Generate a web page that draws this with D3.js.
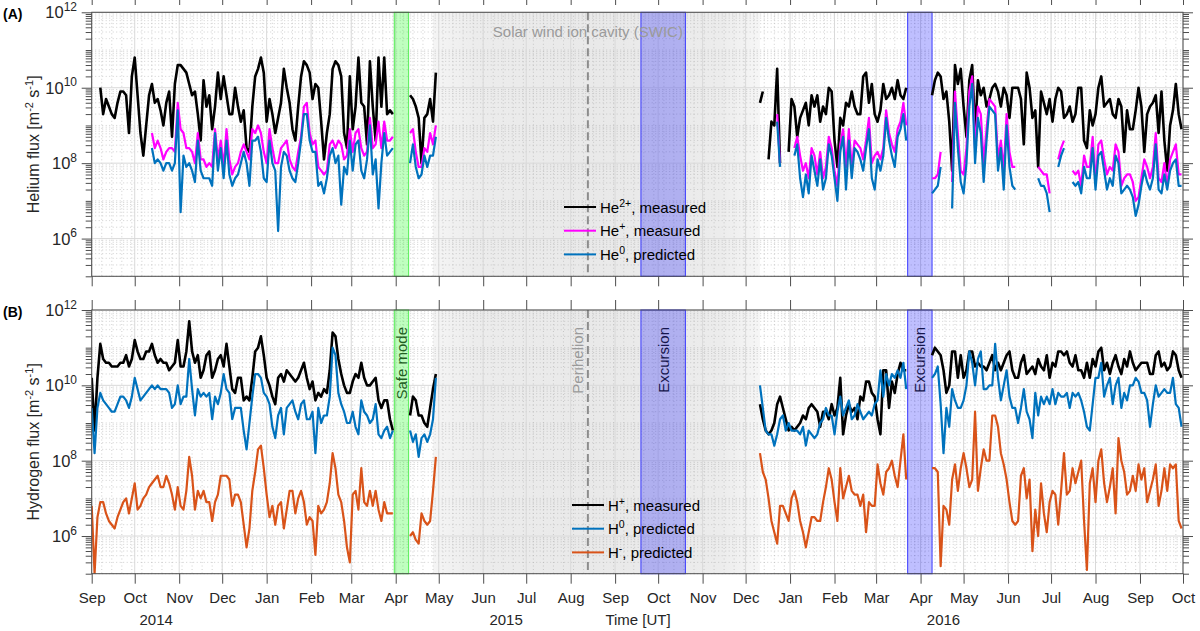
<!DOCTYPE html>
<html>
<head>
<meta charset="utf-8">
<title>Helium and hydrogen flux</title>
<script src="https://cdn.jsdelivr.net/npm/d3@7/dist/d3.min.js"></script>
<style>
  body { margin: 0; background: #fff; }
  svg { display: block; font-family: "Liberation Sans", Arial, Helvetica, sans-serif; }
</style>
</head>
<body>
<svg id="chart" width="1200" height="631"></svg>
<script>
// sampling grid: one value every 2 days from each segment start (UTC)
const seg1_start = "2014-09-01", seg2_start = "2015-12-11", step_days = 2;

// all series: log10 of flux [m^-2 s^-1], null = no data
const he2_seg1 = [
  null, null, null, 10.0, 9.3, 9.7, 9.5, 9.3, 9.2, 9.6,
  9.9, 9.9, 9.8, 8.8, 10.3, 10.8, 9.8, 8.8, 8.2, 9.0,
  9.8, 10.1, 9.6, 9.7, 9.4, 9.0, 9.6, 9.9, 8.7, 10.1,
  10.6, 10.6, 10.5, 10.4, 10.1, 9.8, 9.9, 9.3, 8.6, 10.2,
  9.5, 9.8, 8.9, 9.5, 10.4, 9.7, 10.3, 9.8, 9.3, 9.3,
  10.0, 9.5, 9.1, 9.4, 8.4, 8.3, 9.5, 10.3, 10.5, 10.8,
  10.4, 9.1, 9.7, 9.3, 8.8, 9.2, 9.6, 10.5, 10.0, 9.6,
  8.9, 8.6, 9.5, 10.3, 10.7, 10.6, 10.4, 9.7, 10.1, 10.0,
  9.1, 8.1, 8.8, 9.3, 10.5, 10.7, 10.6, 10.3, 8.8, 8.4,
  10.3, 8.9, 9.5, 10.8, 9.6, 9.5, 8.5, 10.7, 9.5, 8.6,
  10.8, 9.5, 10.8, 9.3, 9.4, 9.3, null, null, null, null,
  null, 9.8, 9.7, 9.5, 9.2, 8.0, 9.2, 9.3, 9.7, 9.1,
  10.4
];
const he2_seg2 = [
  9.6, 9.9, null, 8.1, 9.1, 9.0, 10.5, 8.0, null, null,
  8.3, 9.7, 9.5, 8.7, 9.2, 9.4, 9.6, 9.0, 9.8, 9.5,
  9.8, 9.1, 9.5, 9.3, 10.0, 9.9, 8.6, 7.9, 9.2, 9.0,
  9.6, 9.5, 9.9, 9.5, 9.3, 9.3, 10.3, 10.4, 9.6, 10.1,
  9.3, 9.1, 9.4, 10.1, 9.7, 9.8, 10.0, 9.7, 10.2, 9.8,
  9.7, 10.0, null, null, null, null, null, null, null, null,
  9.8, 10.2, 10.4, 10.3, 9.7, 9.9, 9.1, 7.8, 10.6, 10.1,
  10.5, 9.5, 8.7, 10.2, 10.6, 8.8, 10.2, 9.8, 10.0, 9.5,
  9.7, 10.0, 10.1, 9.9, 9.5, 10.0, 9.8, 9.2, 10.0, 10.0,
  10.0, 9.7, 8.5, 10.4, 10.0, 9.2, 9.4, 7.9, 9.9, 9.6,
  9.3, 9.7, 9.1, 9.7, 10.0, 9.9, 9.2, 9.3, 9.5, 9.1,
  9.3, 10.0, 10.0, 8.6, 8.4, 9.4, 9.0, 9.3, 10.0, 10.3,
  9.5, 9.6, 9.7, 9.3, 9.2, 9.7, 9.5, 8.3, 9.4, 8.9,
  8.9, 9.4, 10.0, 9.5, 8.3, 9.3, 9.5, 9.6, 9.8, 8.8,
  9.9, 8.6, 7.8, 9.0, 9.4, 10.1, 9.3, 8.9
];
const he1_seg1 = [
  null, null, null, null, null, null, null, null, null, null,
  null, null, null, null, null, null, null, null, null, null,
  null, 8.8, 8.4, 8.6, 8.4, 8.1, 8.3, 8.4, 8.4, 8.3,
  9.6, 8.9, 8.8, 8.4, 8.4, 8.3, 8.0, 8.8, 8.1, 8.1,
  7.9, 8.0, 7.9, 8.9, 8.1, 8.6, 7.9, 8.9, 8.1, 7.7,
  7.9, 8.0, 8.3, 8.5, 8.3, 8.1, 8.9, 8.8, 9.0, 8.8,
  8.3, 8.0, 8.9, 8.4, 8.0, 8.0, 8.4, 8.5, 8.6, 8.1,
  7.9, 7.8, 8.3, 8.7, 9.5, 9.6, 8.8, 8.5, 8.6, 7.9,
  7.8, 7.7, 7.8, 8.5, 8.6, 8.4, 8.6, 8.5, 8.1, 8.2,
  8.9, 8.3, 8.8, 8.9, 8.4, 8.2, 8.3, 9.2, 8.4, 8.5,
  9.1, 8.4, 9.1, 8.6, 8.6, 8.7, null, null, null, null,
  null, 8.8, 8.9, 8.3, 7.9, 7.9, 8.4, 8.3, 8.8, 8.5,
  9.0
];
const he1_seg2 = [
  null, null, null, null, null, null, 9.3, 8.0, null, null,
  null, null, 8.4, 8.7, 8.2, 7.8, 8.0, 7.6, 8.4, 8.2,
  7.7, 8.3, 7.6, 7.9, 8.7, 8.4, 7.8, 7.4, 8.5, 8.9,
  7.9, 8.9, 7.9, 8.6, 8.5, 8.4, 8.1, 8.6, 9.2, 8.0,
  8.2, 8.3, 8.1, 8.4, 9.4, 8.8, 8.5, 8.3, 8.9, 9.1,
  9.6, 9.0, null, null, null, null, null, null, null, null,
  7.6, 7.6, 7.7, 8.3, null, null, null, 7.5, 9.9, 8.8,
  7.8, 7.7, 8.4, 9.9, 10.3, 8.4, 9.5, 9.3, 8.0, 8.9,
  9.7, 9.6, 9.5, 8.1, 8.6, 7.8, 9.3, 8.3, 7.9, 7.9,
  null, null, null, null, null, null, null, 7.9, 7.8, 7.7,
  7.7, 7.2, null, null, 8.1, 8.4, 8.6, null, null, 7.8,
  7.7, 7.8, 7.4, 8.2, 7.9, 7.9, 8.7, 7.5, 8.5, 8.6,
  8.1, 7.7, 7.9, 7.8, 8.5, 8.3, 7.4, 7.6, 7.7, 7.7,
  7.5, 7.0, 7.1, 7.6, 8.1, 7.9, 7.6, 7.9, 8.8, 7.6,
  7.5, 8.0, 7.4, 8.1, 8.3, 8.5, 7.7, 7.7
];
const he0_seg1 = [
  null, null, null, null, null, null, null, null, null, null,
  null, null, null, null, null, null, null, null, null, null,
  null, 8.4, 8.0, 8.1, 8.0, 7.8, 8.0, 8.0, 7.8, 8.0,
  9.4, 6.7, 8.2, 7.9, 8.0, 7.8, 7.5, 8.6, 7.8, 7.6,
  7.6, 7.6, 7.4, 8.8, 7.8, 8.4, 7.6, 8.6, 7.7, 7.4,
  7.6, 7.7, 8.0, 8.3, 8.0, 7.4, 8.6, 8.6, 8.7, 8.3,
  7.6, 7.5, 8.6, 8.0, 7.8, 6.2, 7.9, 8.3, 8.2, 7.8,
  7.6, 7.5, 8.0, 8.6, 9.3, 9.3, 8.6, 8.3, 8.3, 7.4,
  7.5, 7.2, 7.6, 8.2, 8.4, 8.0, 8.2, 6.9, 7.9, 7.7,
  8.6, 7.8, 8.5, 8.6, 7.8, 7.6, 8.1, 9.0, 7.7, 8.1,
  6.8, 8.0, 8.8, 8.2, 8.3, 8.4, null, null, null, null,
  null, 8.0, 8.5, 7.9, 7.6, 7.7, 8.2, 7.9, 8.2, 8.2,
  8.7
];
const he0_seg2 = [
  null, null, null, null, null, null, 9.1, 7.9, null, null,
  null, null, 8.2, 8.5, 7.6, 7.1, 7.7, 7.2, 8.2, 7.8,
  7.4, 8.1, 7.3, 7.6, 8.5, 8.2, 7.6, 7.0, 8.3, 8.7,
  7.3, 8.6, 7.6, 8.4, 8.3, 8.1, 7.8, 8.4, 8.9, 7.6,
  7.3, 8.1, 7.8, 8.2, 9.2, 8.6, 8.2, 7.9, 8.7, 8.9,
  9.3, 8.6, null, null, null, null, null, null, null, null,
  7.2, 7.3, 7.4, 7.9, null, null, null, 6.8, 9.6, 8.4,
  7.5, 7.2, 8.0, 9.5, 10.1, 8.0, 9.2, 8.8, 7.5, 8.6,
  9.5, 9.4, 9.3, 7.8, 8.4, 7.3, 9.0, 7.9, 7.4, 7.3,
  null, null, null, null, null, null, null, 7.6, 7.4, 7.4,
  7.2, 6.7, null, null, 7.9, 8.2, 8.4, null, null, 7.5,
  7.4, 7.5, 7.2, 7.9, 7.6, 7.6, 8.4, 7.3, 8.2, 8.3,
  7.8, 7.3, 7.6, 7.4, 8.2, 8.0, 7.2, 7.3, 7.4, 7.3,
  7.1, 6.6, 6.9, 7.4, 7.8, 7.5, 7.3, 7.6, 8.5, 7.3,
  7.2, 7.7, 7.3, 7.8, 8.0, 8.1, 7.4, 7.4
];
const hp_seg1 = [
  10.2, 8.8, 10.2, 11.1, 10.7, 10.6, 10.6, 10.5, 10.5, 10.5,
  10.6, 10.6, 10.8, 10.5, 10.7, 11.2, 10.9, 10.7, 10.7, 10.9,
  10.9, 11.1, 10.8, 10.6, 10.7, 10.6, 10.6, 10.4, 10.5, 10.6,
  11.2, 10.5, 10.5, 10.9, 11.7, 10.9, 10.6, 10.8, 10.2, 10.4,
  10.8, 10.9, 10.2, 10.4, 10.7, 10.8, 10.5, 11.1, 10.5, 9.9,
  9.8, 10.2, 10.2, 9.6, 9.7, 9.6, 10.2, 10.9, 11.0, 11.3,
  10.8, 10.2, 10.0, 9.7, 9.5, 10.2, 10.3, 10.1, 10.4, 10.3,
  10.2, 10.1, 10.2, 10.4, 10.6, 10.2, 9.9, 10.1, 9.6, 9.8,
  9.7, 9.9, 9.8, 10.4, 11.4, 11.3, 10.7, 10.3, 10.0, 9.8,
  9.8, 10.1, 10.3, 10.2, 10.6, 10.2, 10.0, 10.0, 10.1, 10.2,
  9.6, 9.4, 9.6, 9.6, 9.1, 8.8, null, null, null, null,
  null, 9.2, 9.7, 9.6, 9.2, 9.2, 9.0, 8.9, 9.4, 9.9,
  10.3
];
const hp_seg2 = [
  9.5, 9.1, 8.8, 8.7, 8.8, 9.0, 9.5, 9.7, 9.4, 9.1,
  8.8, 8.9, 8.8, 8.9, 9.0, 9.2, 9.1, 9.4, 9.5, 9.4,
  9.3, 8.9, 9.3, 9.3, 9.1, 9.5, 9.2, 9.4, 10.2, 8.7,
  9.2, 9.5, 9.3, 9.4, 9.1, 9.7, 9.6, 10.1, 10.1, 9.8,
  9.7, 9.1, 8.7, 10.4, 10.4, 9.4, 10.1, 9.8, 10.3, 10.6,
  10.4, 10.4, null, null, null, null, null, null, null, null,
  10.8, 11.0, 10.9, 10.8, 10.4, 9.8, 10.0, 10.9, 10.9, 10.2,
  10.8, 10.2, 10.4, 10.9, 10.9, 10.5, 10.6, 10.5, 10.5, 10.4,
  10.6, 10.8, 10.4, 10.6, 10.4, 10.6, 10.8, 10.9, 10.4, 10.2,
  10.2, 10.6, 10.8, 10.3, 10.4, 10.5, 10.3, 10.7, 10.5, 10.4,
  10.8, 10.2, 10.6, 10.5, 10.9, 10.9, 10.8, 10.9, 10.6, 10.5,
  10.8, 10.4, 10.4, 10.2, 10.6, 10.2, 10.7, 10.5, 10.9, 11.0,
  10.4, 10.6, 10.3, 10.6, 10.8, 10.5, 10.3, 10.7, 10.5, 10.9,
  10.6, 10.4, 10.5, 10.6, 10.6, 10.6, 10.3, 10.3, 10.8, 10.9,
  10.5, 10.6, 10.4, 10.5, 10.9, 10.8, 10.4, 10.2
];
const h0_seg1 = [
  9.4, 8.2, 9.4, 9.8, 9.6, 9.5, 9.4, 9.3, 9.3, 9.5,
  9.7, 9.7, 9.6, 9.4, 9.7, 10.2, 9.9, 9.6, 9.7, 9.8,
  9.9, 10.0, 9.9, 10.0, 9.9, 9.9, 9.9, 9.8, 9.4, 9.5,
  10.0, 9.5, 9.7, 9.7, 10.7, 9.9, 9.2, 9.9, 9.7, 9.8,
  9.7, 9.8, 9.1, 9.7, 9.5, 9.8, 10.3, 9.9, 9.8, 9.1,
  9.4, 9.4, 9.4, 8.8, 8.3, 9.0, 9.7, 10.3, 10.3, 10.2,
  9.8, 9.7, 9.5, 8.9, 8.6, 9.2, 9.4, 8.7, 9.4, 9.5,
  9.6, 9.3, 9.1, 9.5, 9.6, 9.1, 9.1, 9.3, 8.2, 9.4,
  9.0, 9.2, 9.2, 9.7, 11.0, 10.8, 9.8, 9.5, 9.3, 9.0,
  9.0, 9.3, 8.9, 8.7, 9.6, 9.3, 9.2, 9.0, 9.1, 9.5,
  8.7, 8.6, 8.8, 8.9, 8.6, 8.8, null, null, null, null,
  null, 8.8, 8.5, 8.7, 8.1, 8.6, 8.7, 8.5, 8.7, 9.1,
  10.2
];
const h0_seg2 = [
  10.0, 9.4, 8.8, 8.7, 8.7, 8.4, 8.7, 9.1, 9.2, 8.8,
  9.0, 8.8, 8.8, 8.8, 8.7, 8.9, 8.4, 8.8, 8.7, 8.6,
  8.7, 9.0, 9.1, 9.4, 9.2, 9.2, 8.7, 9.3, 9.7, 9.2,
  9.4, 9.6, 9.1, 9.2, 9.5, 9.3, 9.1, 9.2, 9.3, 9.2,
  9.5, 9.6, 10.4, 9.7, 10.3, 10.0, 10.3, 10.2, 10.4, 10.2,
  10.6, 9.9, null, null, null, null, null, null, null, null,
  10.2, 10.3, 10.5, 9.5, 8.2, 9.4, 8.9, 9.9, 9.6, 9.4,
  9.4, 9.6, 10.0, 10.9, 10.6, 10.0, 10.7, 10.9, 9.9, 9.9,
  10.0, 10.0, 11.1, 10.2, 9.6, 10.0, 10.4, 9.7, 9.4, 9.4,
  9.0, 9.4, 9.9, 9.3, 9.1, 8.6, 9.8, 9.2, 9.7, 9.5,
  9.7, 9.5, 9.9, 9.5, 9.8, 9.7, 9.7, 9.8, 9.4, 9.8,
  9.7, 9.8, 9.6, 9.3, 8.9, 8.8, 9.5, 10.2, 10.2, 10.6,
  9.7, 10.0, 10.2, 9.5, 10.0, 10.2, 9.4, 9.8, 9.6, 10.0,
  10.0, 10.2, 10.1, 9.8, 9.8, 9.6, 8.9, 9.5, 10.0, 9.7,
  9.8, 9.9, 9.8, 9.8, 10.2, 9.5, 9.4, 8.9
];
const hm_seg1 = [
  6.8, 5.0, 6.5, 6.9, 6.9, 6.6, 6.4, 6.3, 6.2, 6.5,
  6.7, 6.9, 7.0, 6.6, 7.0, 7.4, 6.7, 6.8, 7.0, 7.1,
  7.3, 7.4, 7.5, 7.6, 7.3, 7.3, 7.6, 7.4, 7.1, 6.7,
  7.3, 6.8, 6.7, 7.2, 8.1, 7.6, 6.7, 7.2, 7.0, 7.2,
  6.9, 6.9, 6.4, 6.9, 7.1, 7.6, 7.6, 7.6, 7.5, 6.8,
  7.1, 7.1, 6.9, 6.3, 5.7, 6.2, 7.2, 7.7, 8.3, 8.4,
  7.8, 7.1, 6.5, 6.8, 6.3, 6.8, 6.9, 6.2, 6.7, 7.2,
  7.2, 6.6, 7.0, 7.2, 6.9, 6.3, 6.5, 6.4, 5.5, 6.8,
  6.6, 6.7, 6.9, 7.4, 8.2, 7.8, 7.1, 6.9, 6.4, 5.7,
  5.3, 7.1, 7.2, 6.7, 7.8, 6.9, 6.8, 7.2, 6.8, 7.2,
  6.7, 6.4, 6.9, 6.6, 6.6, 6.6, null, null, null, null,
  null, 6.0, 6.1, 5.9, 5.8, 6.6, 6.4, 6.3, 6.4, 7.2,
  8.1
];
const hm_seg2 = [
  8.2, 7.7, 7.5, 7.0, 6.4, 6.1, 5.8, 6.8, 6.8, 6.6,
  6.4, 7.0, 7.2, 6.9, 6.4, 6.1, 5.7, 6.1, 6.5, 6.5,
  6.4, 6.4, 6.9, 7.3, 7.8, 7.5, 6.9, 6.4, 7.8, 7.0,
  7.3, 7.6, 7.2, 7.1, 7.1, 6.8, 7.1, 6.1, 6.9, 6.8,
  6.8, 7.9, 7.4, 7.1, 7.7, 7.8, 8.0, 7.6, 7.3, 8.0,
  8.7, 7.5, null, null, null, null, null, null, null, null,
  7.8, 7.8, 7.7, 5.2, 6.8, 6.7, 6.3, 7.5, 7.9, 7.2,
  7.8, 8.2, 7.8, 7.3, 7.5, 9.3, 7.2, 7.8, 8.3, 8.0,
  8.0, 9.2, 9.2, 8.9, 8.2, 7.9, 7.5, 6.9, 6.4, 6.3,
  6.4, 7.6, 7.8, 7.0, 7.5, 5.6, 6.7, 6.0, 7.4, 6.6,
  6.1, 6.9, 7.2, 7.1, 6.3, 7.2, 8.2, 7.1, 7.2, 7.8,
  7.4, 7.7, 8.0, 6.4, 5.1, 7.4, 7.8, 6.9, 8.0, 8.3,
  7.4, 6.9, 7.3, 7.8, 6.6, 8.6, 8.0, 7.7, 7.1, 7.2,
  7.6, 7.2, 7.9, 7.5, 7.8, 6.9, 7.2, 7.5, 7.9, 6.8,
  7.2, 7.8, 7.2, 7.9, 7.8, 7.9, 6.4, 6.2
];

// events
const safe_mode = ["2015-03-31", "2015-04-10"];
const excursions = [["2015-09-19", "2015-10-20"], ["2016-03-23", "2016-04-09"]];
const perihelion = "2015-08-13";
const swic = ["2015-04-27", "2015-12-11"];
const y_tick_exps = [6, 8, 10, 12];
const year_labels = [["2014", "2014-10-16"], ["2015", "2015-06-17"], ["Time [UT]", "2015-09-17"], ["2016", "2016-04-17"]];

const utc = s => new Date(s + "T00:00:00Z");
const svg = d3.select("#chart");
const text_color = "#262626", axis_color = "#4d4d4d";

const x = d3.scaleUtc()
  .domain([utc("2014-09-01"), utc("2016-10-01")])
  .range([91.7, 1183]);
const month_ticks = d3.utcMonth.range(x.domain()[0], d3.utcDay.offset(x.domain()[1], 1));
const week_ticks = d3.utcMonday.range(x.domain()[0], x.domain()[1]);

const minor_vals = [];
for (let n = 5; n < 12; n++) for (let k = 2; k <= 9; k++) minor_vals.push(k * Math.pow(10, n));
const odd_decades = [1e5, 1e7, 1e9, 1e11];
const major_vals = y_tick_exps.map(e => Math.pow(10, e));

function build(start, vals) {
  const t0 = utc(start);
  return vals.map((v, i) => ({ t: d3.utcDay.offset(t0, i * step_days), v }));
}
function series(a, b) {
  return build(seg1_start, a).concat([{ t: null, v: null }], build(seg2_start, b));
}

const defs = svg.append("defs");
const grad = defs.append("linearGradient").attr("id", "swic_grad")
  .attr("x1", 0).attr("x2", 1).attr("y1", 0).attr("y2", 0);
[[0, "#f5f5f5"], [0.13, "#ececec"], [0.5, "#e9e9e9"], [0.88, "#ececec"], [1, "#f6f6f6"]]
  .forEach(([o, c]) => grad.append("stop").attr("offset", o).attr("stop-color", c));

const panels = [
  {
    id: "A", top: 12.3, bottom: 276.3,
    title: ["Helium flux [m", "-2", " s", "-1", "]"],
    lines: [
      { data: series(he2_seg1, he2_seg2), color: "#000000", w: 2.6 },
      { data: series(he1_seg1, he1_seg2), color: "#ff00ff", w: 2.2 },
      { data: series(he0_seg1, he0_seg2), color: "#0072bd", w: 2.2 }
    ],
    legend: [["He", "2+", ", measured", "#000000"], ["He", "+", ", measured", "#ff00ff"], ["He", "0", ", predicted", "#0072bd"]],
    legend_x: 564, legend_y: 207
  },
  {
    id: "B", top: 310, bottom: 573.7,
    title: ["Hydrogen flux [m", "-2", " s", "-1", "]"],
    lines: [
      { data: series(hp_seg1, hp_seg2), color: "#000000", w: 2.6 },
      { data: series(h0_seg1, h0_seg2), color: "#0072bd", w: 2.2 },
      { data: series(hm_seg1, hm_seg2), color: "#d95319", w: 2.2 }
    ],
    legend: [["H", "+", ", measured", "#000000"], ["H", "0", ", predicted", "#0072bd"], ["H", "-", ", predicted", "#d95319"]],
    legend_x: 572, legend_y: 505
  }
];

const [x0, x1] = x.range();

panels.forEach(p => {
  const y = d3.scaleLog().domain([1e5, 1e12]).range([p.bottom, p.top]);
  const g = svg.append("g").attr("class", "panel-" + p.id);

  // SWIC shading
  g.append("rect")
    .attr("x", x(utc(swic[0]))).attr("width", x(utc(swic[1])) - x(utc(swic[0])))
    .attr("y", p.top).attr("height", p.bottom - p.top)
    .attr("fill", "url(#swic_grad)");

  // minor grid
  g.append("g").selectAll("line").data(week_ticks).join("line")
    .attr("x1", d => x(d)).attr("x2", d => x(d))
    .attr("y1", p.top).attr("y2", p.bottom)
    .attr("stroke", "#b0b0b0").attr("stroke-width", 0.6).attr("stroke-dasharray", "1,2.5");
  g.append("g").selectAll("line").data(minor_vals.concat(odd_decades)).join("line")
    .attr("x1", x0).attr("x2", x1)
    .attr("y1", d => y(d)).attr("y2", d => y(d))
    .attr("stroke", "#b0b0b0").attr("stroke-width", 0.6).attr("stroke-dasharray", "1,2.5");

  // major grid
  g.append("g").selectAll("line").data(month_ticks).join("line")
    .attr("x1", d => x(d)).attr("x2", d => x(d))
    .attr("y1", p.top).attr("y2", p.bottom)
    .attr("stroke", "#d9d9d9").attr("stroke-width", 1);
  g.append("g").selectAll("line").data(major_vals).join("line")
    .attr("x1", x0).attr("x2", x1)
    .attr("y1", d => y(d)).attr("y2", d => y(d))
    .attr("stroke", "#d9d9d9").attr("stroke-width", 1);

  // safe mode + excursions
  g.append("rect")
    .attr("x", x(utc(safe_mode[0]))).attr("width", x(utc(safe_mode[1])) - x(utc(safe_mode[0])))
    .attr("y", p.top).attr("height", p.bottom - p.top)
    .attr("fill", "#00ff00").attr("fill-opacity", 0.25)
    .attr("stroke", "#55ee55").attr("stroke-width", 1);
  g.append("g").selectAll("rect").data(excursions).join("rect")
    .attr("x", d => x(utc(d[0]))).attr("width", d => x(utc(d[1])) - x(utc(d[0])))
    .attr("y", p.top).attr("height", p.bottom - p.top)
    .attr("fill", "#0000ff").attr("fill-opacity", 0.25)
    .attr("stroke", "#3a3aff").attr("stroke-width", 1);

  // perihelion
  g.append("line")
    .attr("x1", x(utc(perihelion))).attr("x2", x(utc(perihelion)))
    .attr("y1", p.top).attr("y2", p.bottom)
    .attr("stroke", "#8c8c8c").attr("stroke-width", 2).attr("stroke-dasharray", "8,4");

  // data
  const clip_id = "clip-" + p.id;
  defs.append("clipPath").attr("id", clip_id).append("rect")
    .attr("x", x0).attr("y", p.top).attr("width", x1 - x0).attr("height", p.bottom - p.top);
  const line = d3.line()
    .defined(d => d.v != null)
    .x(d => x(d.t))
    .y(d => y(Math.pow(10, d.v)));
  g.append("g").attr("clip-path", `url(#${clip_id})`)
    .selectAll("path").data(p.lines).join("path")
    .attr("d", d => line(d.data))
    .attr("fill", "none")
    .attr("stroke", d => d.color)
    .attr("stroke-width", d => d.w)
    .attr("stroke-linejoin", "round");

  // legend
  const lg = g.append("g").selectAll("g").data(p.legend).join("g")
    .attr("transform", (d, i) => `translate(${p.legend_x},${p.legend_y + i * 23.7})`);
  lg.append("line").attr("x1", 0).attr("x2", 32)
    .attr("stroke", d => d[3]).attr("stroke-width", 2);
  const lt = lg.append("text").attr("x", p.id === "A" ? 36 : 36).attr("y", 5.5)
    .attr("font-size", 15).attr("fill", "#000");
  lt.append("tspan").text(d => d[0]);
  lt.append("tspan").attr("dy", -6).attr("font-size", 10.5).text(d => d[1]);
  lt.append("tspan").attr("dy", 6).text(d => d[2]);

  // box
  g.append("rect")
    .attr("x", x0).attr("y", p.top).attr("width", x1 - x0).attr("height", p.bottom - p.top)
    .attr("fill", "none").attr("stroke", axis_color).attr("stroke-width", 1);

  // x ticks
  const bottom_axis = g.append("g").attr("transform", `translate(0,${p.bottom})`)
    .call(d3.axisBottom(x).tickValues(month_ticks).tickSize(10).tickPadding(9)
      .tickFormat(p.id === "B" ? d3.utcFormat("%b") : ""));
  const top_axis = p.id === "A"
    ? g.append("g").attr("transform", "translate(0,5)")
        .call(d3.axisTop(x).tickValues(month_ticks).tickSize(5).tickFormat(""))
    : g.append("g").attr("transform", `translate(0,${p.top})`)
        .call(d3.axisTop(x).tickValues(month_ticks).tickSize(10).tickFormat(""));

  // y ticks, both sides
  const y_axes = [];
  [[d3.axisLeft, x0], [d3.axisRight, x1]].forEach(([ax, pos]) => {
    y_axes.push(g.append("g").attr("transform", `translate(${pos},0)`)
      .call(ax(y).tickValues(major_vals).tickSize(10).tickFormat("")));
    y_axes.push(g.append("g").attr("transform", `translate(${pos},0)`)
      .call(ax(y).tickValues(minor_vals.concat(odd_decades)).tickSize(6).tickFormat("")));
  });

  [bottom_axis, top_axis, ...y_axes].forEach(a => {
    a.select(".domain").remove();
    a.selectAll(".tick line").attr("stroke", axis_color);
    a.selectAll(".tick text").attr("font-size", 15).attr("fill", text_color)
      .attr("font-family", '"Liberation Sans", Arial, sans-serif');
  });

  // y tick labels 10^n
  const yl = g.append("g").selectAll("text").data(y_tick_exps).join("text")
    .attr("x", 77).attr("y", d => y(Math.pow(10, d)) + 6)
    .attr("text-anchor", "end").attr("fill", text_color).attr("font-size", 16.5);
  yl.append("tspan").text("10");
  yl.append("tspan").attr("dy", -7.5).attr("font-size", 12).text(d => d);

  // y title
  const yt = g.append("text")
    .attr("transform", `translate(39,${(p.top + p.bottom) / 2}) rotate(-90)`)
    .attr("text-anchor", "middle").attr("fill", text_color).attr("font-size", 16);
  p.title.forEach((s, i) => {
    const ts = yt.append("tspan").text(s);
    if (i % 2 === 1) ts.attr("dy", -6.5).attr("font-size", 11);
    else if (i > 0) ts.attr("dy", 6.5);
  });

  // panel label
  g.append("text").attr("x", 3).attr("y", p.top + 7)
    .attr("font-size", 14).attr("font-weight", "bold").attr("fill", "#000")
    .text("(" + p.id + ")");
});

// annotations
const pA = panels[0], pB = panels[1];
svg.append("text")
  .attr("x", x(utc(perihelion))).attr("y", 36.5)
  .attr("text-anchor", "middle").attr("font-size", 15).attr("fill", "#9a9a9a")
  .text("Solar wind ion cavity (SWIC)");

function vlabel(px, txt, color) {
  svg.append("text")
    .attr("transform", `translate(${px},${pB.top + 17}) rotate(-90)`)
    .attr("text-anchor", "end").attr("font-size", 15).attr("fill", color)
    .text(txt);
}
vlabel((x(utc(safe_mode[0])) + x(utc(safe_mode[1]))) / 2 + 5.5, "Safe mode", "#1f5f1f");
vlabel(x(utc(perihelion)) - 5, "Perihelion", "#9a9a9a");
excursions.forEach(e => vlabel((x(utc(e[0])) + x(utc(e[1]))) / 2 + 5.5, "Excursion", "#16164d"));

// year labels under the time axis
svg.append("g").selectAll("text").data(year_labels).join("text")
  .attr("x", d => x(utc(d[1]))).attr("y", 624.5)
  .attr("text-anchor", "middle").attr("font-size", 15).attr("fill", text_color)
  .text(d => d[0]);
</script>
</body>
</html>
